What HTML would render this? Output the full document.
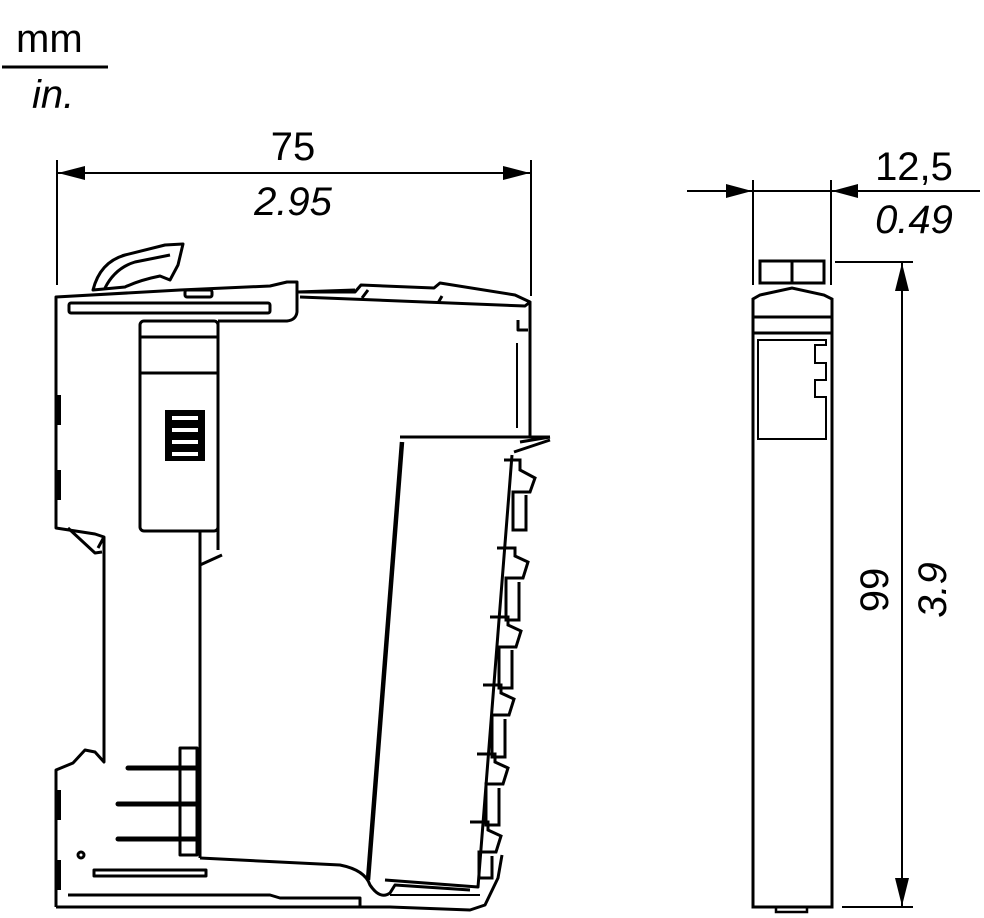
<!DOCTYPE html>
<html><head><meta charset="utf-8"><style>
html,body{margin:0;padding:0;background:#fff;}
svg{display:block;}
text{font-family:"Liberation Sans",Arial,sans-serif;fill:#000;}
</style></head><body>
<svg width="984" height="918" viewBox="0 0 984 918" xmlns="http://www.w3.org/2000/svg">
<text x="16" y="52" font-size="40">mm</text>
<line x1="2" y1="67" x2="108" y2="67" stroke="#000" stroke-width="3"/>
<text x="32" y="108" font-size="40" font-style="italic">in.</text>

<text x="293" y="160" font-size="40" text-anchor="middle">75</text>
<text x="293" y="215" font-size="40" font-style="italic" text-anchor="middle">2.95</text>
<line x1="57" y1="173" x2="530" y2="173" stroke="#000" stroke-width="2"/>
<line x1="57" y1="160" x2="57" y2="285" stroke="#000" stroke-width="2"/>
<line x1="531" y1="160" x2="531" y2="296" stroke="#000" stroke-width="2"/>
<polygon points="58,173 85,166 85,180" fill="#000"/>
<polygon points="530,173 503,166 503,180" fill="#000"/>

<text x="914" y="180" font-size="40" text-anchor="middle">12,5</text>
<text x="914" y="233" font-size="40" font-style="italic" text-anchor="middle">0.49</text>
<line x1="687" y1="191" x2="980" y2="191" stroke="#000" stroke-width="2"/>
<line x1="753" y1="180" x2="753" y2="285" stroke="#000" stroke-width="2"/>
<line x1="831" y1="180" x2="831" y2="285" stroke="#000" stroke-width="2"/>
<polygon points="752,191 726,184 726,198" fill="#000"/>
<polygon points="832,191 858,184 858,198" fill="#000"/>
<line x1="835" y1="262" x2="913" y2="262" stroke="#000" stroke-width="2"/>
<line x1="842" y1="907" x2="913" y2="907" stroke="#000" stroke-width="2"/>
<line x1="902" y1="263" x2="902" y2="906" stroke="#000" stroke-width="2"/>
<polygon points="902,263 895,291 909,291" fill="#000"/>
<polygon points="902,906 895,878 909,878" fill="#000"/>
<text transform="translate(888,590) rotate(-90)" font-size="40" text-anchor="middle">99</text>
<text transform="translate(946,590) rotate(-90)" font-size="40" font-style="italic" text-anchor="middle">3.9</text>

<g fill="none" stroke="#000" stroke-width="3">
<rect x="760" y="261" width="64" height="22"/>
<line x1="792" y1="261" x2="792" y2="283"/>
<path d="M753,907 V299 L760,295 L792,288 L824,295 L832,299 V907 Z"/>
<line x1="753" y1="317" x2="832" y2="317"/>
<line x1="753" y1="333" x2="832" y2="333"/>
<path d="M758,340 H826 V345 H815 V363 H826 V380 H815 V397 H826 V439 H758 Z" stroke-width="2"/>
<path d="M776,907 V912 H807 V907" stroke-width="2.5"/>
</g>

<g fill="none" stroke="#000" stroke-width="3" stroke-linejoin="round">
<path d="M93,290 Q100,262 125,255 L165,245 L183,244 L178,265 L170,280 L160,276 Q140,280 125,287 Z"/>
<path d="M105,288 Q115,268 135,262 L170,255"/>
<path d="M56,907 V770 L73,763 L85,750 L95,752 L104,762 V537 L95,534 L56,528 V297 L180,290 L270,286 L287,282 L297,282 L297,292 L355,290"/>
<rect x="69" y="303" width="201" height="10" rx="2"/>
<rect x="185" y="290" width="27" height="7" rx="2"/>
<path d="M297,292 L297,312 Q296,320 287,321 L218,321"/>
<rect x="140" y="321" width="78" height="210" rx="4"/>
<line x1="140" y1="337" x2="218" y2="337"/>
<line x1="140" y1="373" x2="218" y2="373"/>
<path d="M218,321 V550"/>
<path d="M200,530 V858"/>
<path d="M200,565 L222,555"/>
<path d="M104,537 L98,548 M68,528 L95,553 L102,552"/>
<path d="M297,292 L355,292 L361,285 L434,288 L440,283 L515,295 L530,302 L525,306 L300,297"/>
<path d="M362,298 L368,290 M438,303 L442,296"/>
<path d="M530,302 V437 L515,437"/>
<path d="M518,320 V330 H528"/>
<path d="M517,343 V428" stroke-width="2"/>
<path d="M400,437 H520 L550,437"/>
<path d="M402,442 L368,880" stroke-width="4.5"/>
<path d="M520,442 L550,437 M514,452 L550,440"/>
<path d="M512,455 L478,887 L385,880"/>
<path d="M200,858 L340,865 Q365,870 370,885 Q380,900 390,893 L395,885 L470,890"/>
<path d="M56,907 H390 L470,910 L485,905 L498,878 L502,855"/>
<path d="M68,895 H270 L280,898 L360,898 V906"/>
<rect x="94" y="870" width="112" height="6"/>
<circle cx="81" cy="855" r="3"/>
<path d="M180,748 H197 V855 H180 Z"/>
<path d="M390,895 L480,895" stroke-width="2"/>
</g>
<g stroke="#000" stroke-width="5" stroke-linecap="round">
<line x1="128" y1="768" x2="196" y2="768"/>
<line x1="118" y1="804" x2="196" y2="804"/>
<line x1="118" y1="839" x2="196" y2="839"/>
</g>
<g>
<rect x="165" y="410" width="40" height="51" fill="#000"/>
<rect x="172" y="416" width="26" height="4" fill="#fff"/>
<rect x="172" y="428" width="26" height="4" fill="#fff"/>
<rect x="172" y="440" width="26" height="4" fill="#fff"/>
<rect x="172" y="452" width="26" height="4" fill="#fff"/>
</g>
<rect x="55" y="395" width="6" height="30" fill="#000"/>
<rect x="55" y="470" width="6" height="30" fill="#000"/>
<rect x="55" y="790" width="6" height="30" fill="#000"/>
<rect x="55" y="860" width="6" height="30" fill="#000"/>
<g fill="none" stroke="#000" stroke-width="3">
<path d="M504,460 H520 V470 L535,478 L530,492 H513 V530 H526 V495"/>
<path d="M497,548 H515 V556 L528,562 L523,578 H506 V620 H519 V582"/>
<path d="M490,617 H508 V625 L521,631 L516,647 H499 V688 H512 V650"/>
<path d="M483,685 H501 V693 L514,699 L509,715 H492 V757 H505 V719"/>
<path d="M477,754 H495 V762 L508,768 L503,784 H486 V825 H499 V788"/>
<path d="M470,822 H488 V830 L501,836 L496,852 H479 V878 H492 V856"/>
</g>
</svg>
</body></html>
